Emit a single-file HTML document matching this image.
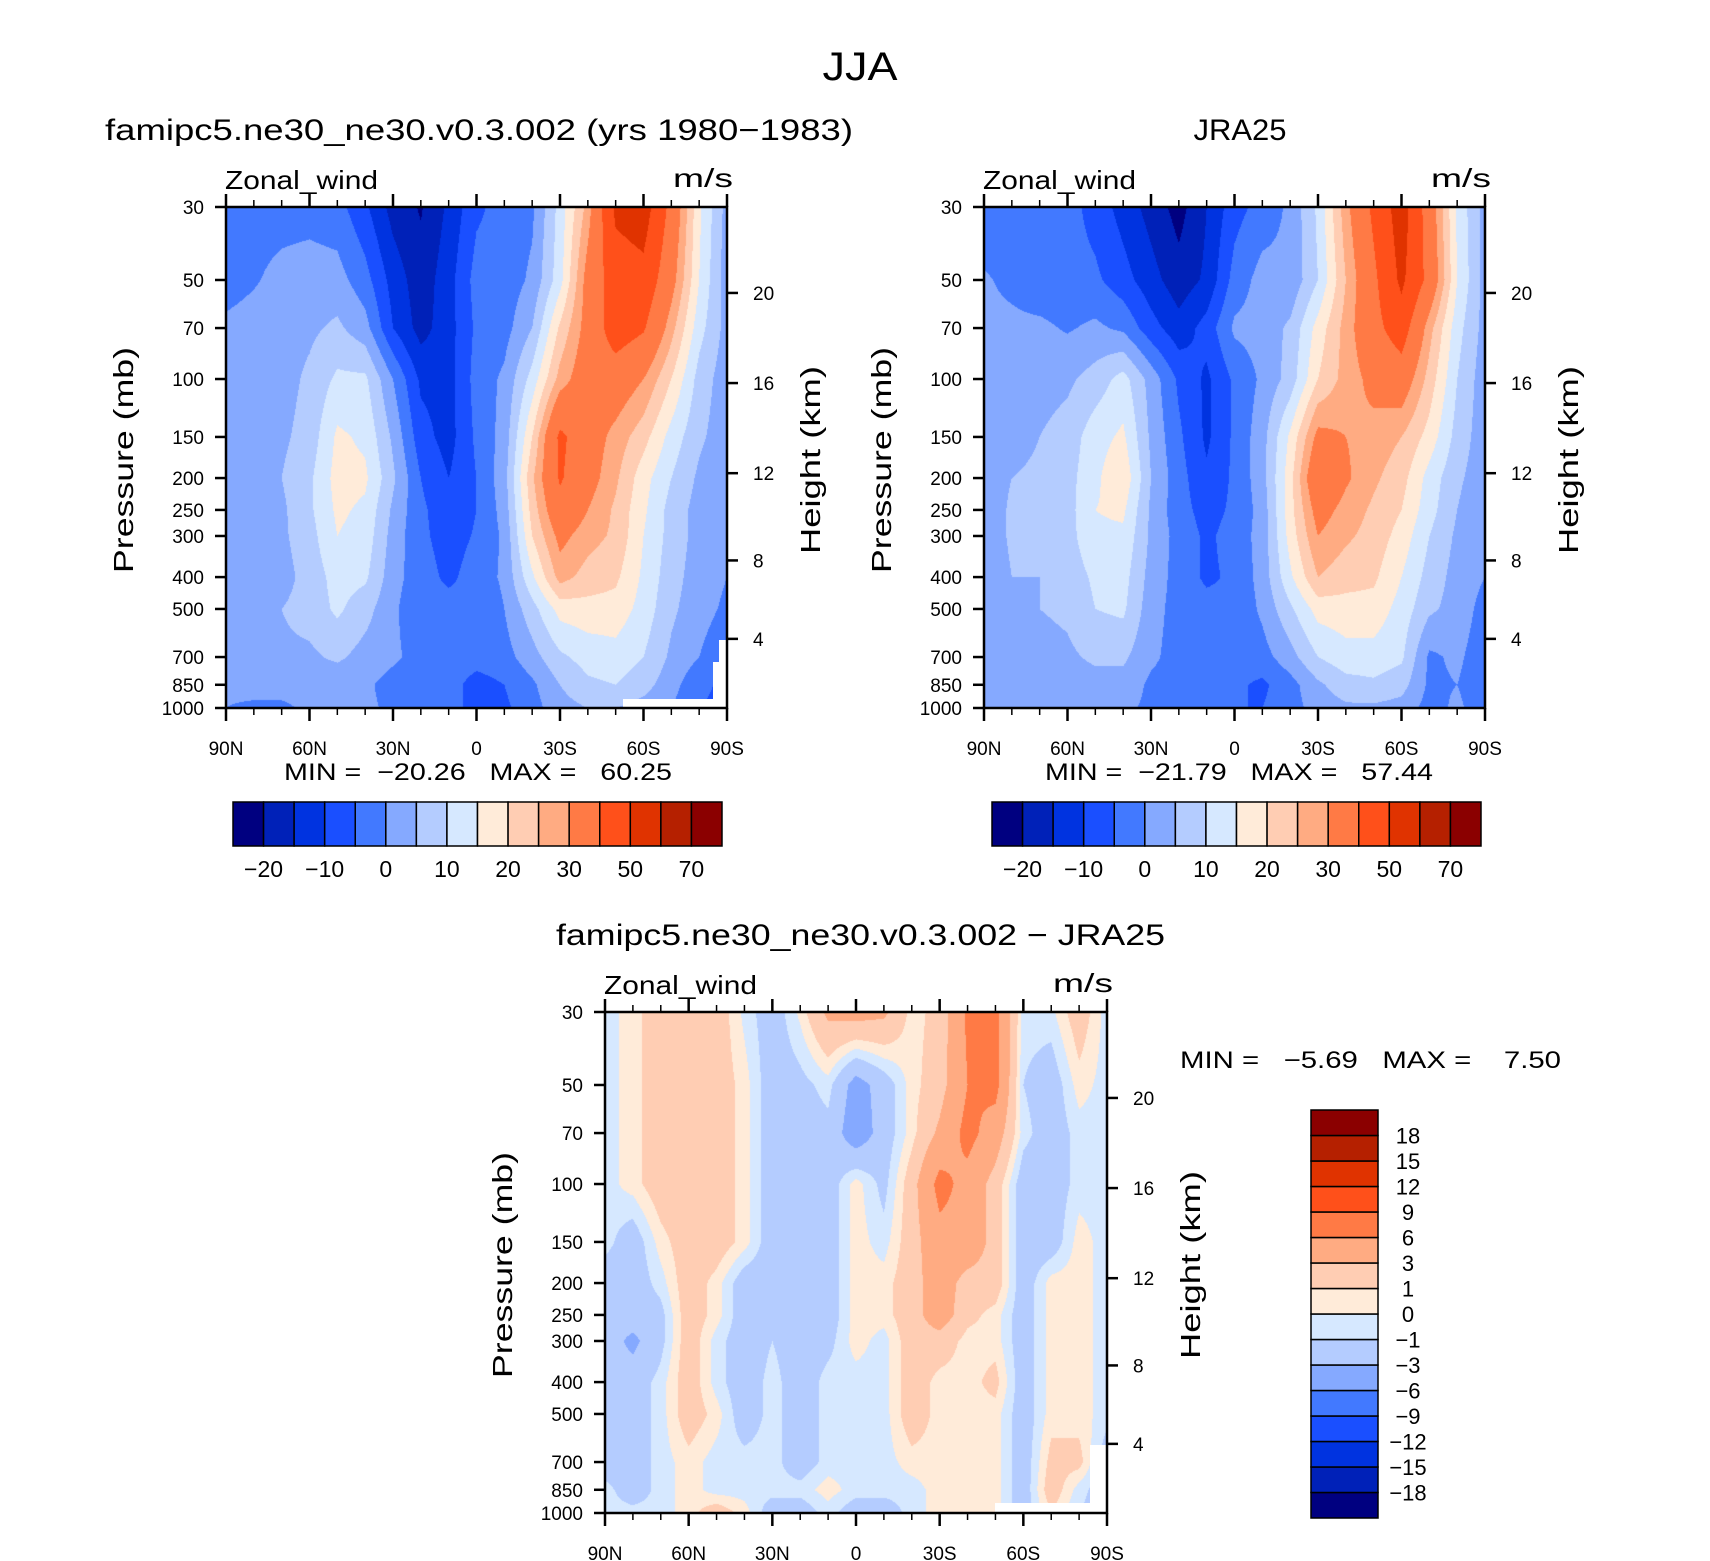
<!DOCTYPE html>
<html><head><meta charset="utf-8"><style>
html,body{margin:0;padding:0;background:#fff;}
#wrap{position:relative;width:1710px;height:1561px;overflow:hidden;background:#fff;}
canvas{position:absolute;}
svg{position:absolute;left:0;top:0;}
text{font-family:"Liberation Sans",sans-serif;fill:#000;white-space:pre;}
</style></head><body>
<div id="wrap">
<canvas id="c1"></canvas>
<canvas id="c2"></canvas>
<canvas id="c3"></canvas>
<svg id="ov" width="1710" height="1561"></svg>
</div>
<script>
// ---- data ----
const lats = [90,80,70,60,50,40,30,20,10,0,-10,-20,-30,-40,-50,-60,-70,-80,-90];
const levels = [30,50,70,100,150,200,250,300,400,500,700,850,1000];
const pressureTicks = [30,50,70,100,150,200,250,300,400,500,700,850,1000];
const heightTicks = [4,8,12,16,20];
const latTicks = [90,60,30,0,-30,-60,-90];
const latTickLabels = ['90N','60N','30N','0','30S','60S','90S'];
const modelU = [
[-2,-2,-2,-2,-3,-9,-17,-20.5,-14,-6,-3,-1,12,27,52,55,37,16,3],
[-2,-0.5,1.5,2.5,2,-3,-12,-18,-12,-3,-3,1,13,33,45,47,33,15,2],
[1,2,3,4,6,2,-10,-17,-12,-4,-2,5,21,33,45,41,27,12,3],
[1,2,3,6,11,11,0,-11,-12,-3,1,12,27,35,35,30,20,8,2],
[0.5,2,4,7,16,14,4,-8,-12,-4,2,20,42,34,28,22,13,6,2],
[0.5,2,5,9,17,16,6,-5,-10,-5,3,24,41,33,26,17,10,4,1],
[0,1.5,4,9,16,14,4,-4,-8,-5,2,22,37,30,24,16,8,3,0.5],
[0,1,4,8,15,13,3,-4,-7,-4.5,1,20,32,27,24,15,8,3,0],
[0.5,1,3,7,12,11,2,-3,-6,-3,1,14,27,23,21,14,7,2.5,0],
[1,2,5,7,11,7,1,-4,-3,-5,0,8,17,18,18,13,6,2,-1],
[1,2,4,4,6,3,1,-2,-2,-3,-2,3,9,12,13,10,4,0,-4],
[1,2,2,2,1,1,-2,-3,-3,-7,-5,-1,5,9,10,7,2,-4,-6],
[0,-1,-1,1,1,1,-1,-3,-3,-7,-6,-2,3,5,5,3,0,-5,-6]
];
const jraU = [
[-3,-3,-3,-3,-7,-12,-17,-22,-15,-7,-3,1,11,28,42,55,35,14,3],
[0.5,-1,-3,-3,-4,-8,-13,-18,-14,-3,2,1,10,25,38,52,37,15,3],
[1,1,1,-0.5,1,-1,-8,-13,-8,1,2,6,17,27,37,45,27,12,3],
[1,2,3,4,7,12,3,-6,-11,-4,1,7,20,27,32,35,23,10,2],
[2,3,5,7,13,16,4,-4,-11,-4,3,16,32,30,28,25,18,8,2],
[2,5,6,8,14,19,5,-3,-9,-4,3,18,38,31,26,22,13,6,2],
[1,6,6,8,15,16,4,-3,-7,-4,2,18,33,28,24,20,12,5,1],
[1,6,6,8,14,14,4,-2,-6,-3,2,17,30,26,23,18,10,4,0],
[0.5,5,5,7,11,12,3,-2,-6,-4,2,14,25,22,21,15,8,3,0],
[1,3,5,6,10,11,2,-2,-3,-4,1,9,17,18,18,13,6,3,-2],
[1,2,3,4,6,6,1,-2,-3,-3,-2,3,10,13,13,11,-1,1,-3],
[1,2,2,2,3,3,-1,-2,0,-4,-6,-2,4,8,9,7,-1,0,-3],
[1,0,1,1,1,1,-1,-2,-1,-5,-5,-2,2,4,4,3,-2,1,-3]
];
const diffU = [
[-0.5,0.5,2,2,2,-0.3,-2,0.3,3.5,4,3.5,0.5,1.5,6.5,7,-0.5,-0.3,2,-0.5],
[-0.5,0.5,2,2,2,0.5,-2,-1.5,-0.5,-4,-2,0.5,2,6,7,-1,-2,0.5,-0.5],
[-0.5,0.5,2,2,2,0.5,-2,-2,-1.5,-4.5,-2,0.5,3.5,7,4.5,-0.5,-2,-0.5,-0.5],
[-0.5,0.5,2,2,2,0.5,-2,-2,-2,0.5,-1.5,2,7,5,2,-2,-2,-0.5,-0.5],
[-0.5,-2,0.5,2,2,0.5,-2,-2.5,-2,0.5,-0.5,2,5,5,2,-2,-2,0.5,-0.5],
[-2,-2,-0.5,2,0.5,-2,-2,-2,-2,0.5,0.5,2,4.5,2,2,-2,0.5,0.5,-0.5],
[-2,-2,-1.5,2,0.5,-2,-1.5,-2,-2,0.5,0.5,2,4.5,1.5,0.5,-2,0.5,0.5,-0.5],
[-2,-3.5,-1.5,2,-0.5,-2,-1,-2,-1.5,0.5,-0.5,2,2,0.5,0.5,-2,0.5,0.5,-0.5],
[-2,-2,-0.5,2,-0.5,-2,-0.5,-2,-0.5,-0.5,-0.5,2,0.5,0.5,1.5,-2,0.5,0.5,-0.5],
[-2,-2,-0.5,2,0.5,-2,-0.5,-2,-0.5,-0.5,-0.5,2,0.5,0.5,0.5,-2,0.5,0.5,-0.5],
[-2,-2,-0.5,0.5,-0.5,-0.5,-0.5,-2,-0.5,-0.5,-0.5,0.5,0.5,0.5,0.5,-2,1.5,1.5,-2],
[-0.5,-2,-0.5,0.5,-0.5,-0.5,-0.5,-0.5,0.5,-0.5,-0.5,-0.5,0.5,0.5,0.5,-2,2,-0.5,-2],
[-0.5,-0.5,-0.5,0.5,2,0.5,-2,-2,-0.5,-2,-2,-0.5,0.5,0.5,0.5,-2,1,-1,-2]
];
const fullBounds = [-20,-15,-10,-5,0,5,10,15,20,25,30,40,50,60,70];
const fullLabelIdx = [0,2,4,6,8,10,12,14];
const fullLabels = ['−20','−10','0','10','20','30','50','70'];
const diffBounds = [-18,-15,-12,-9,-6,-3,-1,0,1,3,6,9,12,15,18];
const diffLabels = ['−18','−15','−12','−9','−6','−3','−1','0','1','3','6','9','12','15','18'];
const palette = ['#000080','#0021b8','#0033e0','#1a4fff','#4279ff','#85a9ff','#b4ccff','#d6e8ff','#ffebd9','#ffcdb3','#ffab82','#ff7a45','#ff501a','#e03300','#b52000','#8b0000'];

// ---- helpers ----
const NS='http://www.w3.org/2000/svg';
const ov=document.getElementById('ov');
function mk(tag,attrs,parent){const e=document.createElementNS(NS,tag);for(const k in attrs)e.setAttribute(k,attrs[k]);(parent||ov).appendChild(e);return e;}
function txt(s,x,y,size,anchor,extra){const e=mk('text',Object.assign({x:x,y:y,'font-size':size,'text-anchor':anchor||'start'},extra||{}));e.textContent=s;return e;}
function hexToRgb(h){return [parseInt(h.substr(1,2),16),parseInt(h.substr(3,2),16),parseInt(h.substr(5,2),16)];}
const palRGB=palette.map(hexToRgb);
function binIndex(v,b){let i=0;while(i<b.length&&v>=b[i])i++;return i;}
const L30=Math.log(30),LSPAN=Math.log(1000/30);
function yOfP(P,p){return P.y+P.h*(Math.log(p)-L30)/LSPAN;}
function xOfLat(P,lat){return P.x+P.w*(90-lat)/180;}
function pOfZ(zkm){const z=zkm*1000;if(z<=11000)return 1013.25*Math.pow(1-2.25577e-5*z,5.25588);return 226.32*Math.exp(-(z-11000)/6341.6);}
function sample(grid,lat,p){
  let fi=(90-lat)/10;let i=Math.min(Math.floor(fi),lats.length-2);let tx=fi-i;
  let j=0;while(j<levels.length-2&&p>levels[j+1])j++;
  let ty=(Math.log(p)-Math.log(levels[j]))/(Math.log(levels[j+1])-Math.log(levels[j]));
  ty=Math.max(0,Math.min(1,ty));
  const a=grid[j][i],b=grid[j][i+1],c=grid[j+1][i],d=grid[j+1][i+1];
  return (a*(1-tx)+b*tx)*(1-ty)+(c*(1-tx)+d*tx)*ty;
}
function drawField(id,P,grid,bounds){
  const cv=document.getElementById(id);cv.width=P.w;cv.height=P.h;cv.style.left=P.x+'px';cv.style.top=P.y+'px';
  const ctx=cv.getContext('2d');const im=ctx.createImageData(P.w,P.h);
  for(let py=0;py<P.h;py++){const p=Math.exp(L30+(py+0.5)/P.h*LSPAN);
    for(let px=0;px<P.w;px++){const lat=90-180*(px+0.5)/P.w;const v=sample(grid,lat,p);const c=palRGB[binIndex(v,bounds)];
      const k=(py*P.w+px)*4;im.data[k]=c[0];im.data[k+1]=c[1];im.data[k+2]=c[2];im.data[k+3]=255;}}
  ctx.putImageData(im,0,0);
}
function axes(P,name,blank){
  const g=mk('g',{});
  
  
  blank.forEach(r=>mk('rect',{x:r[0],y:r[1],width:r[2],height:r[3],fill:'#fff'},g));
  mk('rect',{x:P.x,y:P.y,width:P.w,height:P.h,fill:'none',stroke:'#000','stroke-width':2.5},g);
  for(let lat=90;lat>=-90;lat-=10){const x=xOfLat(P,lat);const major=lat%30===0;const len=major?13:7;
    mk('line',{x1:x,y1:P.y+P.h,x2:x,y2:P.y+P.h+len,stroke:'#000','stroke-width':major?2.5:1.5},g);
    mk('line',{x1:x,y1:P.y,x2:x,y2:P.y-len,stroke:'#000','stroke-width':major?2.5:1.5},g);}
  latTicks.forEach((lat,k)=>{const t=txt(latTickLabels[k],xOfLat(P,lat),P.y+P.h+47,19,'middle');});
  pressureTicks.forEach(p=>{const y=yOfP(P,p);mk('line',{x1:P.x-11,y1:y,x2:P.x,y2:y,stroke:'#000','stroke-width':2.5},g);
    const t=txt(String(p),P.x-22,y+7,19,'end');});
  heightTicks.forEach(z=>{const y=yOfP(P,pOfZ(z));mk('line',{x1:P.x+P.w,y1:y,x2:P.x+P.w+11,y2:y,stroke:'#000','stroke-width':2.5},g);
    const t=txt(String(z),P.x+P.w+26,y+7,19,'start');});
  const zt=txt('Zonal_wind',P.x-1,P.y-18,26,'start',{textLength:153,lengthAdjust:'spacingAndGlyphs'});
  
  const ut=txt('m/s',P.x+P.w+6,P.y-20,26,'end',{textLength:60,lengthAdjust:'spacingAndGlyphs'});
  
  const cy=P.y+P.h*0.505;
  const pt=txt('Pressure (mb)',0,0,28,'middle',{transform:'translate('+(P.x-93)+','+cy+') rotate(-90)',textLength:226,lengthAdjust:'spacingAndGlyphs'});
  
  const ht=txt('Height (km)',0,0,28,'middle',{transform:'translate('+(P.x+P.w+93)+','+(cy)+') rotate(-90)',textLength:188,lengthAdjust:'spacingAndGlyphs'});
  
}
function hColorbar(x,y,w,h,name){
  const g=mk('g',{});
  
  
  const bw=w/palette.length;
  palette.forEach((c,i)=>{const r=mk('rect',{x:x+i*bw,y:y,width:bw,height:h,fill:c,stroke:'#000','stroke-width':1.5},g);
    });
  fullLabelIdx.forEach((bi,k)=>{const t=txt(fullLabels[k],x+(bi+1)*bw,y+h+31,23,'middle');});
}
function vColorbar(x,y,w,h,name){
  const g=mk('g',{});
  
  
  const bh=h/palette.length;
  palette.forEach((c,i)=>{const r=mk('rect',{x:x,y:y+h-(i+1)*bh,width:w,height:bh,fill:c,stroke:'#000','stroke-width':1.5},g);
    });
  diffLabels.forEach((s,k)=>{const t=txt(s,x+w+30,y+h-(k+1)*bh+8,22,'middle');});
}

// ---- panels ----
const P1={x:226,y:207,w:501,h:501},P2={x:984,y:207,w:501,h:501},P3={x:605,y:1012,w:502,h:501};
drawField('c1',P1,modelU,fullBounds);
drawField('c2',P2,jraU,fullBounds);
drawField('c3',P3,diffU,diffBounds);
axes(P1,'model-panel',[[623,699,100,9],[713,662,6,46],[719,640,8,68]]);
axes(P2,'jra25-panel',[]);
axes(P3,'difference-panel',[[995,1503,95,10],[1090,1445,17,68]]);

let t;
t=txt('JJA',860,80,40,'middle',{textLength:75,lengthAdjust:'spacingAndGlyphs'});
t=txt('famipc5.ne30_ne30.v0.3.002 (yrs 1980−1983)',105,140,30,'start',{textLength:748,lengthAdjust:'spacingAndGlyphs'});
t=txt('JRA25',1240,140,30,'middle',{textLength:93,lengthAdjust:'spacingAndGlyphs'});
t=txt('famipc5.ne30_ne30.v0.3.002 − JRA25',556,945,30,'start',{textLength:609,lengthAdjust:'spacingAndGlyphs'});
t=txt('MIN =  −20.26   MAX =   60.25',284,780,24,'start',{textLength:388,lengthAdjust:'spacingAndGlyphs'});
t=txt('MIN =  −21.79   MAX =   57.44',1045,780,24,'start',{textLength:388,lengthAdjust:'spacingAndGlyphs'});
t=txt('MIN =   −5.69   MAX =    7.50',1180,1068,24,'start',{textLength:381,lengthAdjust:'spacingAndGlyphs'});

hColorbar(233,802,489,44,'model-colorbar');
hColorbar(992,802,489,44,'jra25-colorbar');
vColorbar(1311,1110,67,408,'difference-colorbar');
</script>
</body></html>
